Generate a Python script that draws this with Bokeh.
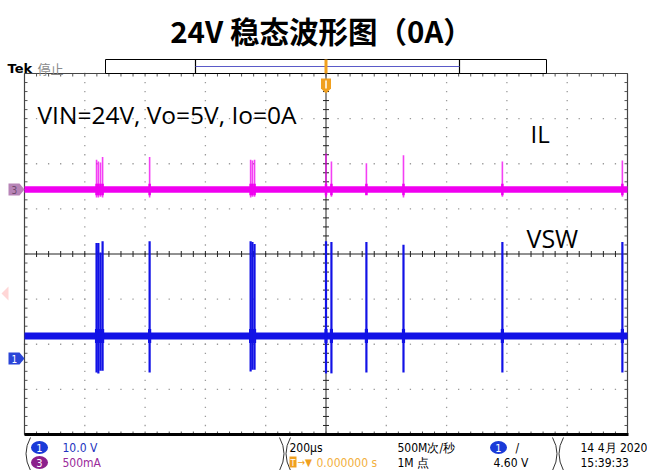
import numpy as np
from bokeh.plotting import figure
from bokeh.models import Range1d
from bokeh.core.properties import value
from bokeh.embed import file_html
from bokeh.resources import INLINE

# ---------------- data ----------------
TITLE = "24V 稳态波形图（0A）"
NOTE = "VIN=24V, Vo=5V, Io=0A"
LABEL_IL = "IL"
LABEL_VSW = "VSW"

TIME_PER_DIV_US = 200.0        # horizontal scale
CH1_VOLTS_PER_DIV = 10.0       # channel 1 = VSW
CH3_AMPS_PER_DIV = 0.5         # channel 3 = IL
SCREEN_SPAN_US = [-1000.0, 1000.0]

# switching bursts (time of each pulse, microseconds, trigger at 0)
pulse_time_us = [-761, -755, -748, -741, -585, -250, -244, -237, 0, 18, 134, 257, 585, 983]
vsw_peak_v    = [25.6, 25.6, 23.5, 26.0, 26.0, 26.0, 25.8, 25.4, 26.0, 25.8, 25.8, 25.2, 25.8, 25.8]
vsw_trough_v  = [-3.1, -3.3, -2.7, -2.7, -3.1, -2.9, -2.5, -2.5, -3.3, -3.3, -3.1, -3.1, -3.1, -3.1]
il_peak_a     = [0.33, 0.31, 0.30, 0.36, 0.36, 0.33, 0.32, 0.33, 0.40, 0.31, 0.29, 0.38, 0.31, 0.32]
il_trough_a   = [-0.09, -0.09, -0.08, -0.09, -0.09, -0.09, -0.08, -0.08, -0.09, -0.08, -0.06, -0.09, -0.08, -0.08]

vsw_level_v = 5.0
vsw_noise_v = 0.78
il_level_a = 0.0
il_noise_a = 0.036

ch1_scale_text = "10.0 V"
ch3_scale_text = "500mA"
timebase_text = "200µs"
trig_pos_text = "0.000000 s"
rate_text = "500M次/秒"
points_text = "1M 点"
trig_level_text = "4.60 V"
date_text = "14 4月 2020"
time_text = "15:39:33"

# ---------------- layout (reference pixel space) ----------------
IMG_W, IMG_H = 647, 470
W, H = 647, 470
GL, GR, GT, GB = 24.0, 627.0, 73.0, 434.0
DX = (GR - GL) / 10.0
DY = (GB - GT) / 8.0
XC = (GL + GR) / 2.0
YC = (GT + GB) / 2.0
CH1_ZERO_Y = 358.0
CH3_ZERO_Y = 189.0
K = W / IMG_W

BLUE = "#1212e6"
MAGENTA = "#f000f0"
ORANGE = "#f0a020"
GRID = "#9a9a9a"
FONT = value("Open Sans")
CJK = value("Noto Sans CJK SC")
STAT = value("DejaVu Sans Condensed")


def fs(px):
    return value(f"{px * K:.1f}px")


def t_at(x):
    return (x - XC) / DX * TIME_PER_DIV_US


def v_at(y):
    return (CH1_ZERO_Y - y) / DY * CH1_VOLTS_PER_DIV


def a_at(y):
    return (CH3_ZERO_Y - y) / DY * CH3_AMPS_PER_DIV


p = figure(width=W, height=H, x_range=Range1d(0, IMG_W), y_range=Range1d(IMG_H, 0),
           output_backend="svg", toolbar_location=None, min_border=0,
           x_axis_location=None, y_axis_location=None)
p.grid.visible = False
p.outline_line_color = None
p.background_fill_color = "white"
p.border_fill_color = "white"
p.extra_x_ranges = {"t": Range1d(t_at(0), t_at(IMG_W))}
p.extra_y_ranges = {"vsw": Range1d(v_at(IMG_H), v_at(0)),
                    "il": Range1d(a_at(IMG_H), a_at(0))}

# ---------------- graticule ----------------
minor_x = GL + np.arange(0, 51) * DX / 5
minor_y = GT + np.arange(0, 41) * DY / 5
dots_x, dots_y = [], []
for i in range(1, 10):
    if i == 5:
        continue
    xs = GL + i * DX
    dots_x += [xs] * len(minor_y)
    dots_y += list(minor_y)
for j in range(1, 8):
    if j == 4:
        continue
    ys = GT + j * DY
    dots_x += list(minor_x)
    dots_y += [ys] * len(minor_x)
p.scatter(dots_x, dots_y, marker="square", size=1.3, color=GRID, line_width=0)

# centre cross
p.segment(x0=[XC, GL], y0=[GT, YC], x1=[XC, GR], y1=[GB, YC], color="#222222", line_width=1)
p.segment(x0=minor_x, y0=YC - 3, x1=minor_x, y1=YC + 3, color="#222222", line_width=1)
p.segment(x0=XC - 3, y0=minor_y, x1=XC + 3, y1=minor_y, color="#222222", line_width=1)
# border ticks
p.segment(x0=minor_x, y0=GT, x1=minor_x, y1=GT + 3, color="#555555", line_width=1)
p.segment(x0=minor_x, y0=GB - 3, x1=minor_x, y1=GB, color="#555555", line_width=1)
p.segment(x0=GL, y0=minor_y, x1=GL + 3, y1=minor_y, color="#555555", line_width=1)
p.segment(x0=GR - 3, y0=minor_y, x1=GR, y1=minor_y, color="#555555", line_width=1)
# frame
p.segment(x0=[GL, GL, GR], y0=[GT, GT, GT], x1=[GR, GL, GR], y1=[GT, GB, GB],
          color="#444444", line_width=1.2)
p.segment(x0=[GL], y0=[GB], x1=[GR + 1], y1=[GB], color="black", line_width=3)

# ---------------- traces ----------------
p.varea(x=SCREEN_SPAN_US, y1=[il_level_a - il_noise_a] * 2, y2=[il_level_a + il_noise_a] * 2,
        fill_color=MAGENTA, x_range_name="t", y_range_name="il")
p.segment(x0=pulse_time_us, y0=il_trough_a, x1=pulse_time_us, y1=il_peak_a,
          line_color=MAGENTA, line_alpha=0.75, line_width=1.6, x_range_name="t", y_range_name="il")
p.segment(x0=pulse_time_us, y0=[il_level_a - 1.8 * il_noise_a] * len(pulse_time_us),
          x1=pulse_time_us, y1=[il_level_a + 1.8 * il_noise_a] * len(pulse_time_us),
          line_color=MAGENTA, line_width=2.5, x_range_name="t", y_range_name="il")

p.varea(x=SCREEN_SPAN_US, y1=[vsw_level_v - vsw_noise_v] * 2, y2=[vsw_level_v + vsw_noise_v] * 2,
        fill_color=BLUE, x_range_name="t", y_range_name="vsw")
p.segment(x0=pulse_time_us, y0=vsw_trough_v, x1=pulse_time_us, y1=vsw_peak_v,
          line_color=BLUE, line_width=2.2, x_range_name="t", y_range_name="vsw")
p.segment(x0=pulse_time_us, y0=[vsw_level_v - 2.0 * vsw_noise_v] * len(pulse_time_us),
          x1=pulse_time_us, y1=[vsw_level_v + 2.0 * vsw_noise_v] * len(pulse_time_us),
          line_color=BLUE, line_width=3.2, x_range_name="t", y_range_name="vsw")

# channel markers (left)
p.patch([8, 19, 24, 19, 8], [CH3_ZERO_Y - 6, CH3_ZERO_Y - 6, CH3_ZERO_Y, CH3_ZERO_Y + 6, CH3_ZERO_Y + 6],
        fill_color="#b784b7", line_color=None)
p.text(x=[11], y=[CH3_ZERO_Y], text=["3"], text_font=STAT, text_font_size=fs(10),
       text_color="#6e4a6e", text_baseline="middle", text_align="left")
p.patch([8, 19, 24, 19, 8], [CH1_ZERO_Y - 6, CH1_ZERO_Y - 6, CH1_ZERO_Y, CH1_ZERO_Y + 6, CH1_ZERO_Y + 6],
        fill_color="#2a45d8", line_color=None)
p.text(x=[11], y=[CH1_ZERO_Y], text=["1"], text_font=STAT, text_font_size=fs(10),
       text_color="white", text_baseline="middle", text_align="left")
# faint watermark fragment at left edge
p.patch([1, 8, 8], [293, 286, 300], fill_color="#ffd6d6", line_color=None)

# ---------------- header ----------------
p.text(x=[321], y=[29], text=[TITLE], text_font=CJK, text_font_style="bold",
       text_font_size=fs(29.5), text_align="center", text_baseline="middle", text_color="black")
p.text(x=[7], y=[68], text=["Tek"], text_font=value("DejaVu Sans"), text_font_style="bold",
       text_font_size=fs(13), text_baseline="middle", text_color="black")
p.text(x=[37], y=[68], text=["停止"], text_font=CJK, text_font_size=fs(13),
       text_baseline="middle", text_color="#8a8a8a")

# record bar
p.quad(left=[105], right=[546], top=[59], bottom=[73], fill_color="white", line_color="black", line_width=1)
p.segment(x0=[195, 459], y0=[59, 59], x1=[195, 459], y1=[73, 73], color="black", line_width=1.2)
p.segment(x0=[195], y0=[66], x1=[459], y1=[66], color="#5a5ac8", line_width=1)
p.segment(x0=[XC], y0=[59], x1=[XC], y1=[73], color=ORANGE, line_width=3)
p.patch([XC - 5, XC + 5, XC + 5, XC, XC - 5], [78, 78, 88, 93, 88], fill_color=ORANGE, line_color=None)
p.segment(x0=[XC], y0=[80], x1=[XC], y1=[88], color="white", line_width=1.5)

# annotations inside screen
p.text(x=[37], y=[114], text=[NOTE], text_font=FONT, text_font_size=fs(24.5),
       text_baseline="middle", text_color="black")
p.text(x=[530], y=[133], text=[LABEL_IL], text_font=FONT, text_font_size=fs(24),
       text_baseline="middle", text_color="black")
p.text(x=[526], y=[237], text=[LABEL_VSW], text_font=FONT, text_font_size=fs(25),
       text_baseline="middle", text_color="black")

# ---------------- status bar ----------------
R1, R2 = 447, 462
p.quadratic(x0=[30, 279, 290, 552, 563], y0=[437] * 5, x1=[30, 279, 290, 552, 563], y1=[470] * 5,
            cx=[21, 288, 281, 561, 554], cy=[453] * 5, line_color="#333333", line_width=1)
p.ellipse(x=[39, 39, 498], y=[R1, R2, R1], width=17, height=13,
          fill_color=["#1a3ad8", "#8c1f8c", "#1a3ad8"], line_color=None)
p.text(x=[39, 39, 498], y=[R1, R2, R1], text=["1", "3", "1"], text_font=STAT,
       text_font_size=fs(11), text_color="white", text_align="center", text_baseline="middle")
p.text(x=[62], y=[R1], text=[ch1_scale_text], text_font=STAT, text_font_size=fs(12),
       text_color="#2233c0", text_baseline="middle")
p.text(x=[62], y=[R2], text=[ch3_scale_text], text_font=STAT, text_font_size=fs(12),
       text_color="#9a2a9a", text_baseline="middle")
p.text(x=[289], y=[R1], text=[timebase_text], text_font=STAT, text_font_size=fs(12),
       text_color="black", text_baseline="middle")
p.quad(left=[289], right=[296], top=[R2 - 6], bottom=[R2 + 5], fill_color=ORANGE, line_color=None)
p.text(x=[292.5], y=[R2], text=["T"], text_font=STAT, text_font_size=fs(9), text_color="white",
       text_align="center", text_baseline="middle")
p.text(x=[297], y=[R2], text=["→▼"], text_font=STAT, text_font_size=fs(10), text_color=ORANGE,
       text_baseline="middle")
p.text(x=[316], y=[R2], text=[trig_pos_text], text_font=STAT, text_font_size=fs(12),
       text_color="#f2b040", text_baseline="middle")
p.text(x=[397, 397], y=[R1, R2], text=[rate_text, points_text], text_font=STAT,
       text_font_size=fs(12), text_color="black", text_baseline="middle")
p.text(x=[515], y=[R1], text=["/"], text_font=STAT, text_font_size=fs(12), text_color="black",
       text_baseline="middle")
p.text(x=[493], y=[R2], text=[trig_level_text], text_font=STAT, text_font_size=fs(12),
       text_color="black", text_baseline="middle")
p.text(x=[580, 580], y=[R1, R2], text=[date_text, time_text], text_font=STAT,
       text_font_size=fs(12), text_color="black", text_baseline="middle")

open("out.html", "w").write(file_html(p, INLINE))
